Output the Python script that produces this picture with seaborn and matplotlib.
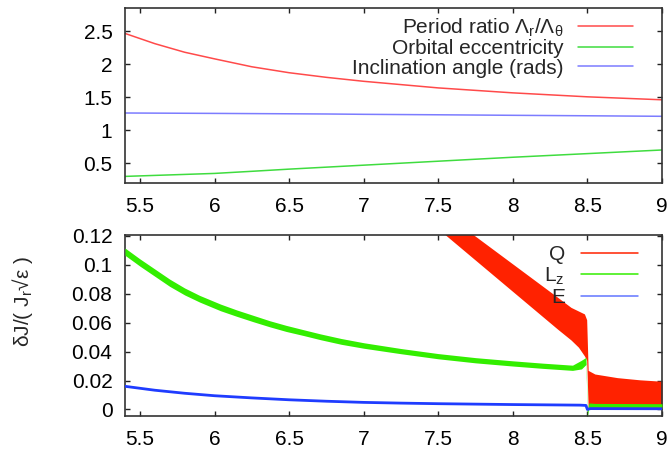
import numpy as np
import pandas as pd
import matplotlib
matplotlib.use("Agg")
import matplotlib.pyplot as plt
from matplotlib.lines import Line2D
import seaborn as sns

# ---------------- data ----------------
# top panel
top_x = [5.4, 5.6, 5.8, 6.0, 6.25, 6.5, 6.75, 7.0, 7.5, 8.0, 8.5, 9.0]
period_ratio = [2.465, 2.31, 2.18, 2.08, 1.96, 1.87, 1.80, 1.74, 1.64, 1.565, 1.505, 1.46]
eccentricity = [0.300, 0.315, 0.330, 0.345, 0.377, 0.410, 0.440, 0.470, 0.530, 0.590, 0.645, 0.700]
inclination = [1.260, 1.258, 1.256, 1.254, 1.251, 1.248, 1.245, 1.240, 1.233, 1.225, 1.218, 1.210]

# bottom panel: Q band
q_x = [7.5, 7.7, 7.9, 8.1, 8.3, 8.39, 8.44, 8.48, 8.495, 8.505, 8.55, 8.7, 8.85, 9.0]
q_upper = [0.139, 0.1234, 0.1081, 0.0928, 0.0775, 0.0705, 0.068, 0.066, 0.062, 0.027, 0.0245, 0.022, 0.0205, 0.0195]
q_lower = [0.1247, 0.1074, 0.0901, 0.0728, 0.0555, 0.048, 0.043, 0.037, 0.034, 0.0015, 0.0015, 0.0015, 0.0015, 0.0015]

# bottom panel: Lz band
lz_x = [5.4, 5.5, 5.6, 5.7, 5.8, 5.9, 6.04, 6.15, 6.26, 6.37, 6.48, 6.6, 6.71, 6.85, 7.0, 7.25, 7.5, 7.75,
        8.0, 8.2, 8.4, 8.46, 8.49, 8.5, 8.51, 8.55, 9.0]
lz_upper = [0.1115, 0.1040, 0.0970, 0.0900, 0.0839, 0.0788, 0.0728, 0.0687, 0.0650, 0.0613, 0.0581, 0.0550,
            0.0522, 0.0490, 0.0461, 0.0421, 0.0386, 0.0358, 0.0336, 0.0320, 0.0306, 0.034, 0.036, 0.000,
            0.0045, 0.0042, 0.0040]
lz_lower = [0.1065, 0.0990, 0.0920, 0.0850, 0.0791, 0.0742, 0.0682, 0.0643, 0.0606, 0.0571, 0.0539, 0.0510,
            0.0482, 0.0450, 0.0423, 0.0385, 0.0350, 0.0322, 0.0300, 0.0284, 0.0270, 0.028, 0.031, -0.0045,
            0.0015, 0.0016, 0.0016]

# bottom panel: E line
e_x = [5.4, 5.6, 5.8, 6.0, 6.25, 6.5, 6.75, 7.0, 7.25, 7.5, 8.0, 8.45, 8.49, 8.5, 8.52, 9.0]
e_val = [0.0160, 0.0133, 0.0112, 0.0095, 0.0080, 0.0067, 0.0057, 0.0049, 0.0044, 0.0040, 0.0034, 0.0030, 0.0028,
         0.0000, 0.0006, 0.0005]

x_ticks = [5.5, 6, 6.5, 7, 7.5, 8, 8.5, 9]
x_ticklabels = ["5.5", "6", "6.5", "7", "7.5", "8", "8.5", "9"]
top_yticks = [0.5, 1, 1.5, 2, 2.5]
top_yticklabels = ["0.5", "1", "1.5", "2", "2.5"]
bot_yticks = [0, 0.02, 0.04, 0.06, 0.08, 0.1, 0.12]
bot_yticklabels = ["0", "0.02", "0.04", "0.06", "0.08", "0.1", "0.12"]

top_labels = ["Period ratio Λ$_\\mathrm{r}$/Λ$_\\mathrm{θ}$", "Orbital eccentricity", "Inclination angle (rads)"]
bot_labels = ["Q", "L$_\\mathrm{z}$", "E"]

# ---------------- style ----------------
sns.set_theme(style="ticks")
plt.rcParams["font.family"] = ["Liberation Sans", "DejaVu Sans"]
plt.rcParams["mathtext.fontset"] = "custom"
plt.rcParams["mathtext.rm"] = "Liberation Sans"
plt.rcParams["mathtext.it"] = "Liberation Sans:italic"
plt.rcParams["mathtext.bf"] = "Liberation Sans:bold"

FS = 15
RED_T, GREEN_T, BLUE_T = "#ff4a4a", "#3fdc3f", "#7c7cff"
RED_B, GREEN_B, BLUE_B = "#ff2200", "#33ee00", "#1f3cff"

fig = plt.figure(figsize=(6.72, 4.49), dpi=100)
ax1 = fig.add_axes([125 / 672, 1 - 183 / 449, 537 / 672, 175 / 449])
ax2 = fig.add_axes([125 / 672, 1 - 416 / 449, 537 / 672, 181 / 449])

# ---------------- top panel ----------------
df_top = pd.DataFrame({"x": top_x, "pr": period_ratio, "ecc": eccentricity, "inc": inclination})
sns.lineplot(data=df_top, x="x", y="pr", ax=ax1, color=RED_T, lw=1.1, label=top_labels[0])
sns.lineplot(data=df_top, x="x", y="ecc", ax=ax1, color=GREEN_T, lw=1.1, label=top_labels[1])
sns.lineplot(data=df_top, x="x", y="inc", ax=ax1, color=BLUE_T, lw=1.1, label=top_labels[2])
ax1.set_xlim(5.4, 9)
ax1.set_ylim(0.2, 2.85)
ax1.set_yticks(top_yticks)
ax1.set_yticklabels(top_yticklabels)
ax1.legend(loc="upper right", bbox_to_anchor=(0.946, 0.952), frameon=False, markerfirst=False,
           fontsize=FS, handlelength=2.65, handletextpad=0.7, labelspacing=0.02,
           borderpad=0, borderaxespad=0)

# ---------------- bottom panel ----------------
ax2.fill_between(q_x, q_lower, q_upper, color=RED_B, lw=0, zorder=2)
ax2.fill_between(lz_x, lz_lower, lz_upper, color=GREEN_B, lw=0, zorder=3)
df_e = pd.DataFrame({"x": e_x, "E": e_val})
sns.lineplot(data=df_e, x="x", y="E", ax=ax2, color=BLUE_B, lw=2.0, zorder=4)
ax2.set_xlim(5.4, 9)
ax2.set_ylim(-0.0045, 0.1205)
ax2.set_yticks(bot_yticks)
ax2.set_yticklabels(bot_yticklabels)
handles = [Line2D([], [], color=RED_B, lw=1.1), Line2D([], [], color=GREEN_B, lw=1.1),
           Line2D([], [], color=BLUE_B, lw=1.1, alpha=0.7)]
ax2.legend(handles, bot_labels, loc="upper right", bbox_to_anchor=(0.955, 0.942), frameon=False,
           markerfirst=False, fontsize=FS, handlelength=2.75, handletextpad=0.75, labelspacing=0.05,
           borderpad=0, borderaxespad=0)
ax2.set_ylabel("δJ/( J$_\\mathrm{r}$√ε )", fontsize=FS)
ax2.yaxis.set_label_coords(-0.167, 0.63)

for ax in (ax1, ax2):
    ax.set_xticks(x_ticks)
    ax.set_xticklabels(x_ticklabels)
    ax.set_xlabel("")
    if ax is ax1:
        ax.set_ylabel("")
    ax.tick_params(axis="both", direction="in", top=True, right=True, length=3.6, width=1.0,
                   labelsize=FS, colors="#222222", labelcolor="black")
    ax.tick_params(axis="y", pad=9)
    ax.tick_params(axis="x", pad=10)
    for s in ax.spines.values():
        s.set_visible(True)
        s.set_linewidth(1.2)
        s.set_color("#333333")

fig.savefig("out.png", dpi=100)
